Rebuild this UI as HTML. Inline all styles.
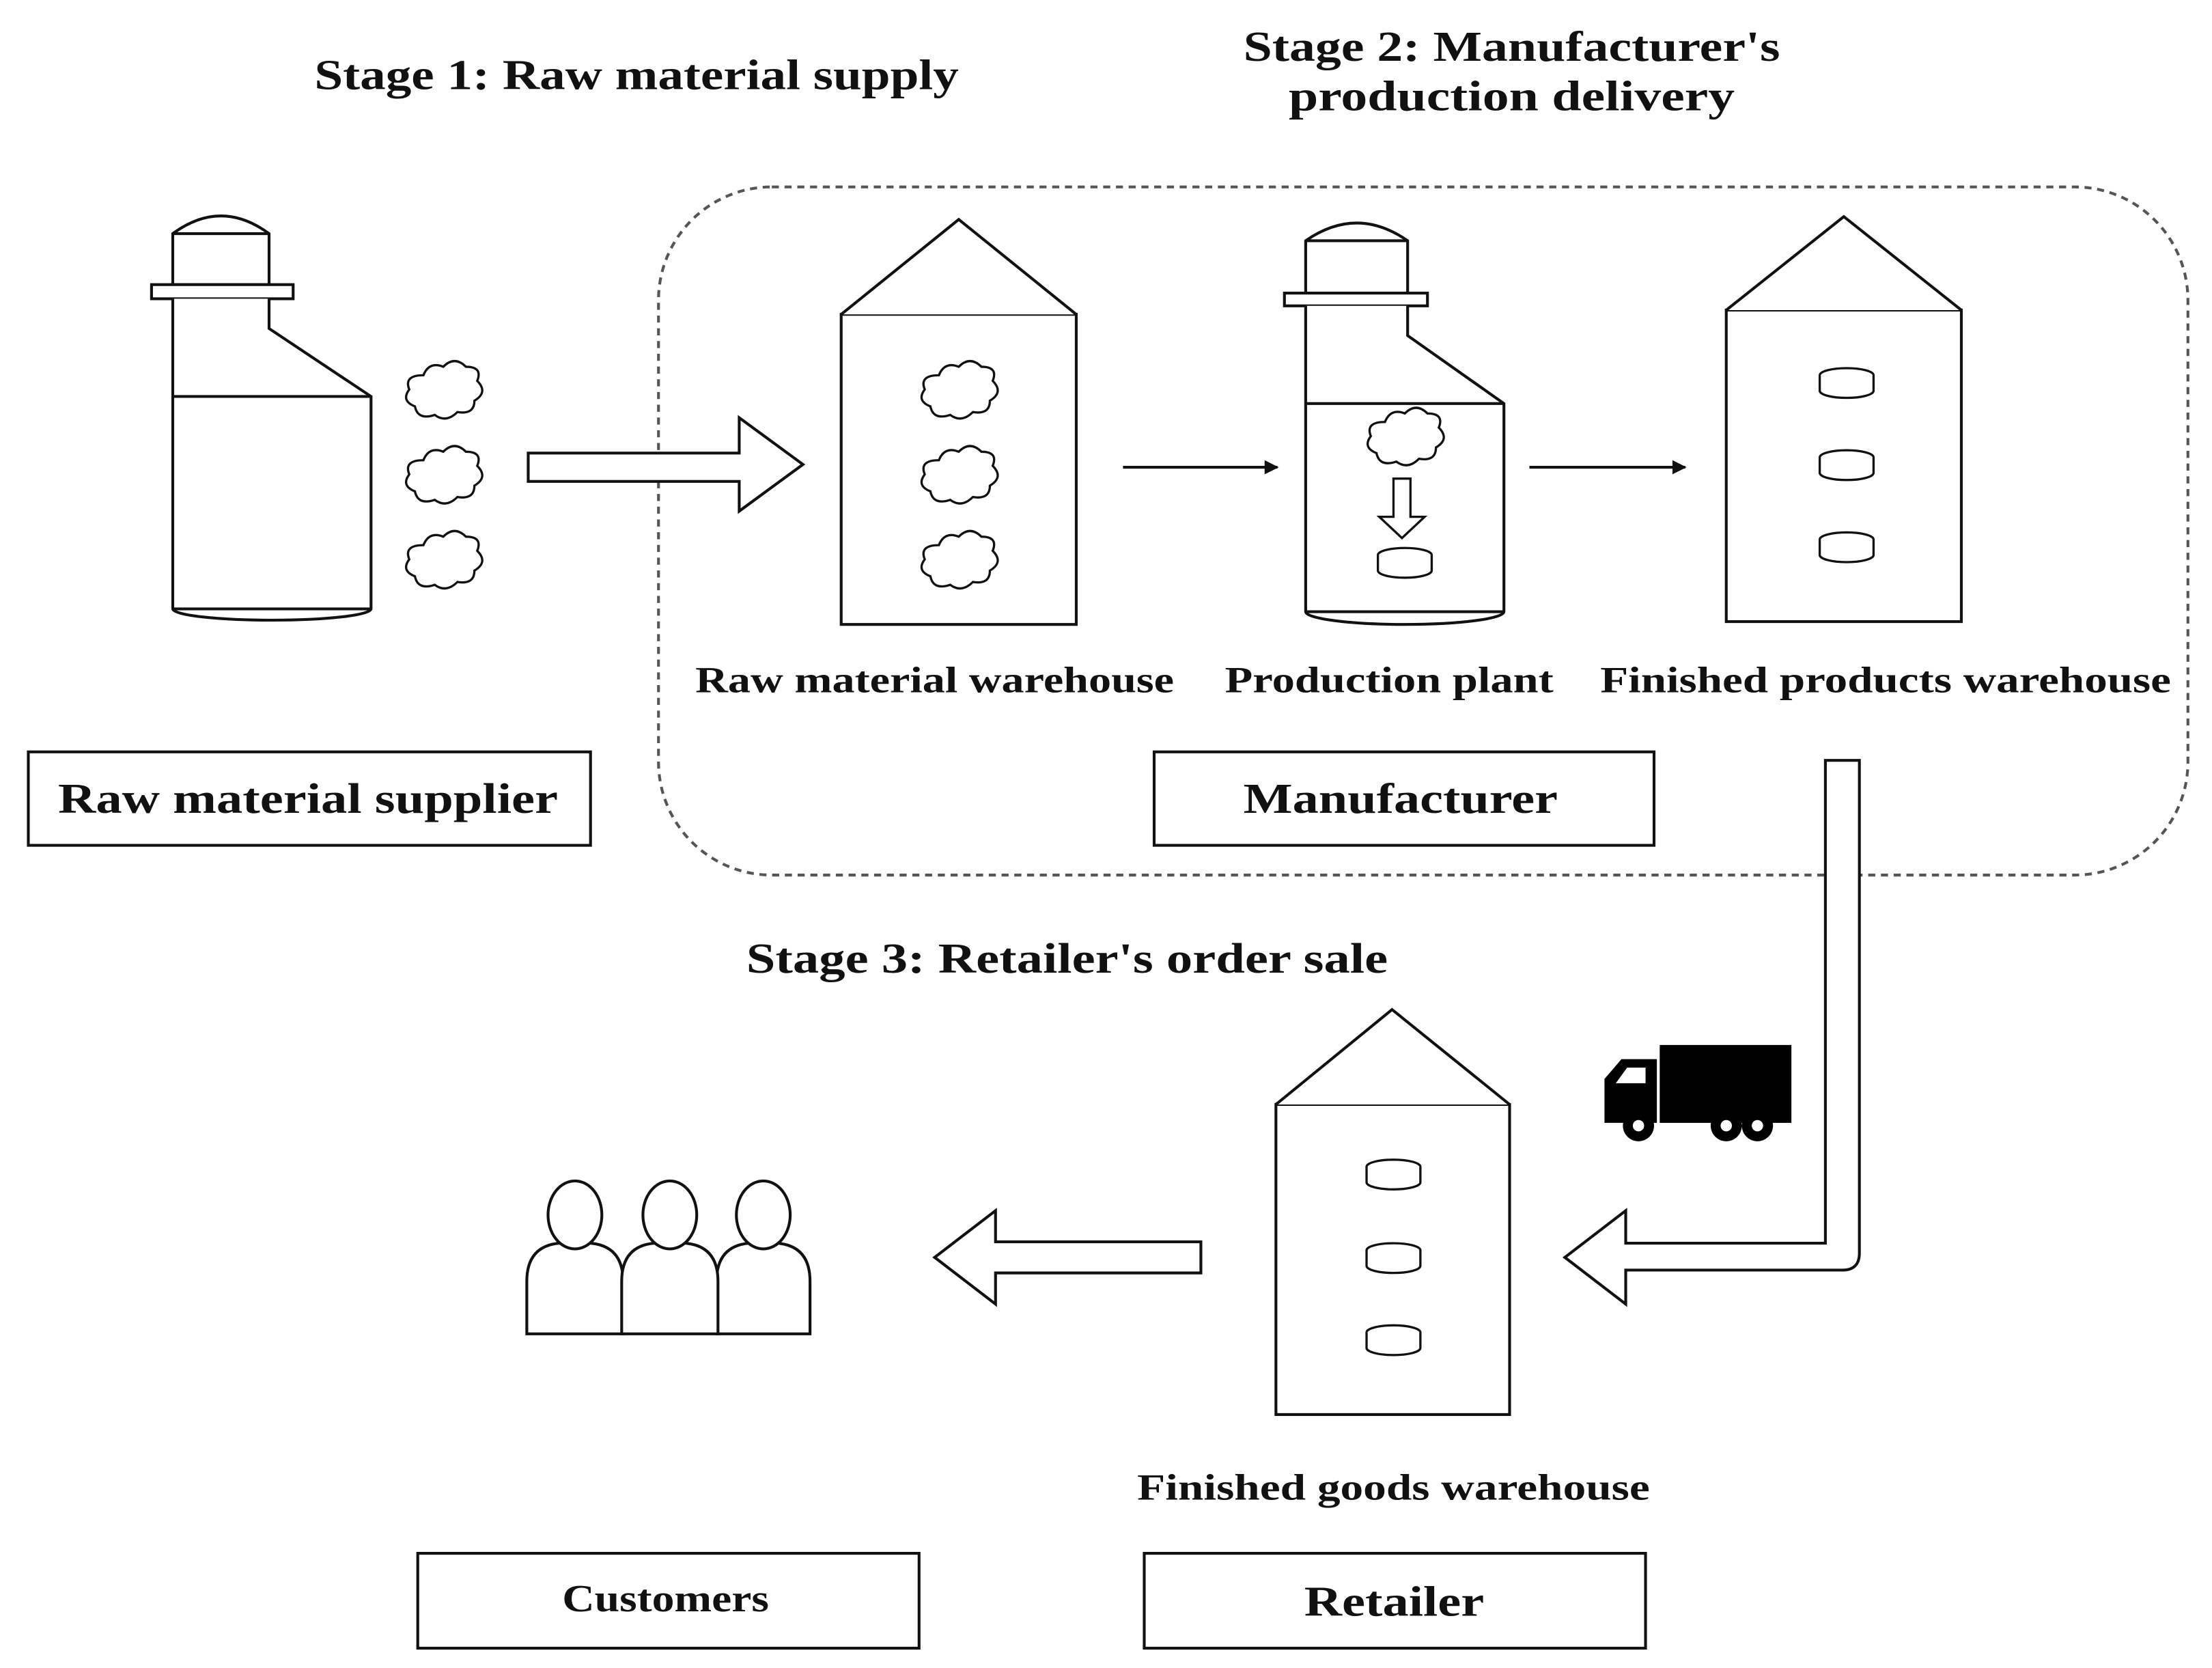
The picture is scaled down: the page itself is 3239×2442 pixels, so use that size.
<!DOCTYPE html>
<html><head><meta charset="utf-8"><style>
html,body{margin:0;padding:0;background:#fff;}
svg{display:block;}
text{font-family:"Liberation Serif",serif;font-weight:bold;fill:#111;}
</style></head><body>
<svg width="3239" height="2442" viewBox="0 0 1562 1178" preserveAspectRatio="none" xmlns="http://www.w3.org/2000/svg">
<defs>
<g id="cloud"><path d="M-14,-12 q4,-10 14,-6 q8,-8 16,0 q12,0 8,10 q8,8 -2,14 q0,10 -12,8 q-8,8 -16,2 q-12,4 -14,-6 q-10,-4 -4,-12 q-4,-10 10,-10z" fill="#fff" stroke="#111" stroke-width="1.6"/></g>
<g id="cyl"><ellipse cx="0" cy="-5" rx="19" ry="5" fill="#fff" stroke="#111" stroke-width="1.6"/><path d="M-19,-5 V6 A19,5 0 0 0 19,6 V-5" fill="#fff" stroke="#111" stroke-width="1.6"/></g>
<marker id="ah" markerWidth="10" markerHeight="10" refX="9" refY="5" orient="auto" markerUnits="userSpaceOnUse"><path d="M0,0 L10,5 L0,10 Z" fill="#111"/></marker>
</defs>
<rect width="1562" height="1178" fill="#fff"/>
<text x="222" y="63" font-size="30" textLength="455" lengthAdjust="spacingAndGlyphs">Stage 1: Raw material supply</text>
<text x="878" y="43" font-size="30" textLength="379" lengthAdjust="spacingAndGlyphs">Stage 2: Manufacturer's</text>
<text x="910" y="78" font-size="30" textLength="315" lengthAdjust="spacingAndGlyphs">production delivery</text>
<text x="527" y="687" font-size="30" textLength="453" lengthAdjust="spacingAndGlyphs">Stage 3: Retailer's order sale</text>

<rect x="465" y="132" width="1080" height="486" rx="80" fill="none" stroke="#555" stroke-width="2" stroke-dasharray="5,4"/>

<g fill="#fff" stroke="#111" stroke-width="2">
<path d="M122,165 Q156,140 190,165 V201 H122 Z"/>
<line x1="122" y1="165" x2="190" y2="165"/>
<rect x="107" y="201" width="100" height="10"/>
<path d="M122,211 V430 A70,8 0 0 0 262,430 V280 L190,232 V211"/>
<line x1="122" y1="280" x2="262" y2="280"/>
<line x1="122" y1="430" x2="262" y2="430"/>
</g>
<use href="#cloud" x="313" y="277"/><use href="#cloud" x="313" y="337"/><use href="#cloud" x="313" y="397"/>
<path d="M373,320 H522 V295 L567,328 L522,361 V340 H373 Z" fill="#fff" stroke="#111" stroke-width="2"/>

<g fill="#fff" stroke="#111" stroke-width="2">
<rect x="594" y="222" width="166" height="219"/>
<path d="M594,222 L677,155 L760,222"/>
</g>
<use href="#cloud" x="677" y="277"/><use href="#cloud" x="677" y="337"/><use href="#cloud" x="677" y="397"/>
<line x1="793" y1="330" x2="902" y2="330" stroke="#111" stroke-width="2" marker-end="url(#ah)"/>

<g fill="#fff" stroke="#111" stroke-width="2">
<path d="M922,170 Q958,145 994,170 V207 H922 Z"/>
<line x1="922" y1="170" x2="994" y2="170"/>
<rect x="907" y="207" width="101" height="9"/>
<path d="M922,216 V432 A70,9 0 0 0 1062,432 V285 L994,237 V216"/>
<line x1="922" y1="285" x2="1062" y2="285"/>
<line x1="922" y1="432" x2="1062" y2="432"/>
</g>
<use href="#cloud" x="992" y="310"/>
<path d="M984,338 H996 V365 H1006 L990,380 L974,365 H984 Z" fill="#fff" stroke="#111" stroke-width="1.6"/>
<use href="#cyl" x="992" y="397"/>
<line x1="1080" y1="330" x2="1190" y2="330" stroke="#111" stroke-width="2" marker-end="url(#ah)"/>

<g fill="#fff" stroke="#111" stroke-width="2">
<rect x="1219" y="219" width="166" height="220"/>
<path d="M1219,219 L1302,153 L1385,219"/>
</g>
<use href="#cyl" x="1304" y="270"/><use href="#cyl" x="1304" y="328"/><use href="#cyl" x="1304" y="386"/>

<text x="491" y="489" font-size="26" textLength="338" lengthAdjust="spacingAndGlyphs">Raw material warehouse</text>
<text x="865" y="489" font-size="26" textLength="232" lengthAdjust="spacingAndGlyphs">Production plant</text>
<text x="1130" y="489" font-size="26" textLength="403" lengthAdjust="spacingAndGlyphs">Finished products warehouse</text>

<rect x="20" y="531" width="397" height="66" fill="#fff" stroke="#111" stroke-width="2"/>
<text x="41" y="574" font-size="30" textLength="353" lengthAdjust="spacingAndGlyphs">Raw material supplier</text>
<rect x="815" y="531" width="353" height="66" fill="#fff" stroke="#111" stroke-width="2"/>
<text x="878" y="574" font-size="30" textLength="222" lengthAdjust="spacingAndGlyphs">Manufacturer</text>

<path d="M1289,537 H1313 V885 Q1313,897 1301,897 H1148 V921 L1105,888 L1148,855 V878 H1289 Z" fill="#fff" stroke="#111" stroke-width="2"/>

<g fill="#000">
<rect x="1172" y="738" width="93" height="55"/>
<path d="M1133,793 V762 L1145,748 H1170 V793 Z"/>
<circle cx="1157" cy="795" r="11"/><circle cx="1219" cy="795" r="11"/><circle cx="1241" cy="795" r="11"/>
</g>
<path d="M1141,765 L1149,754 H1162 V765 Z" fill="#fff"/>
<circle cx="1157" cy="795" r="4" fill="#fff"/><circle cx="1219" cy="795" r="4" fill="#fff"/><circle cx="1241" cy="795" r="4" fill="#fff"/>

<g fill="#fff" stroke="#111" stroke-width="2">
<rect x="901" y="780" width="165" height="219"/>
<path d="M901,780 L983,713 L1066,780"/>
</g>
<use href="#cyl" x="984" y="829"/><use href="#cyl" x="984" y="888"/><use href="#cyl" x="984" y="946"/>

<path d="M848,877 H703 V855 L660,888 L703,921 V899 H848 Z" fill="#fff" stroke="#111" stroke-width="2"/>

<g fill="#fff" stroke="#111" stroke-width="2">
<path d="M372,942 V905 Q372,880 395,878 H417 Q440,880 440,905 V942 Z"/>
<ellipse cx="406" cy="858" rx="19" ry="24"/>
<path d="M506,942 V905 Q506,880 529,878 H549 Q572,880 572,905 V942 Z"/>
<ellipse cx="539" cy="858" rx="19" ry="24"/>
<path d="M439,942 V905 Q439,880 462,878 H484 Q507,880 507,905 V942 Z"/>
<ellipse cx="473" cy="858" rx="19" ry="24"/>
</g>

<text x="803" y="1059" font-size="26" textLength="362" lengthAdjust="spacingAndGlyphs">Finished goods warehouse</text>

<rect x="295" y="1097" width="354" height="67" fill="#fff" stroke="#111" stroke-width="2"/>
<text x="397" y="1138" font-size="27" textLength="146" lengthAdjust="spacingAndGlyphs">Customers</text>
<rect x="808" y="1097" width="354" height="67" fill="#fff" stroke="#111" stroke-width="2"/>
<text x="921" y="1141" font-size="30" textLength="127" lengthAdjust="spacingAndGlyphs">Retailer</text>
</svg>
</body></html>
